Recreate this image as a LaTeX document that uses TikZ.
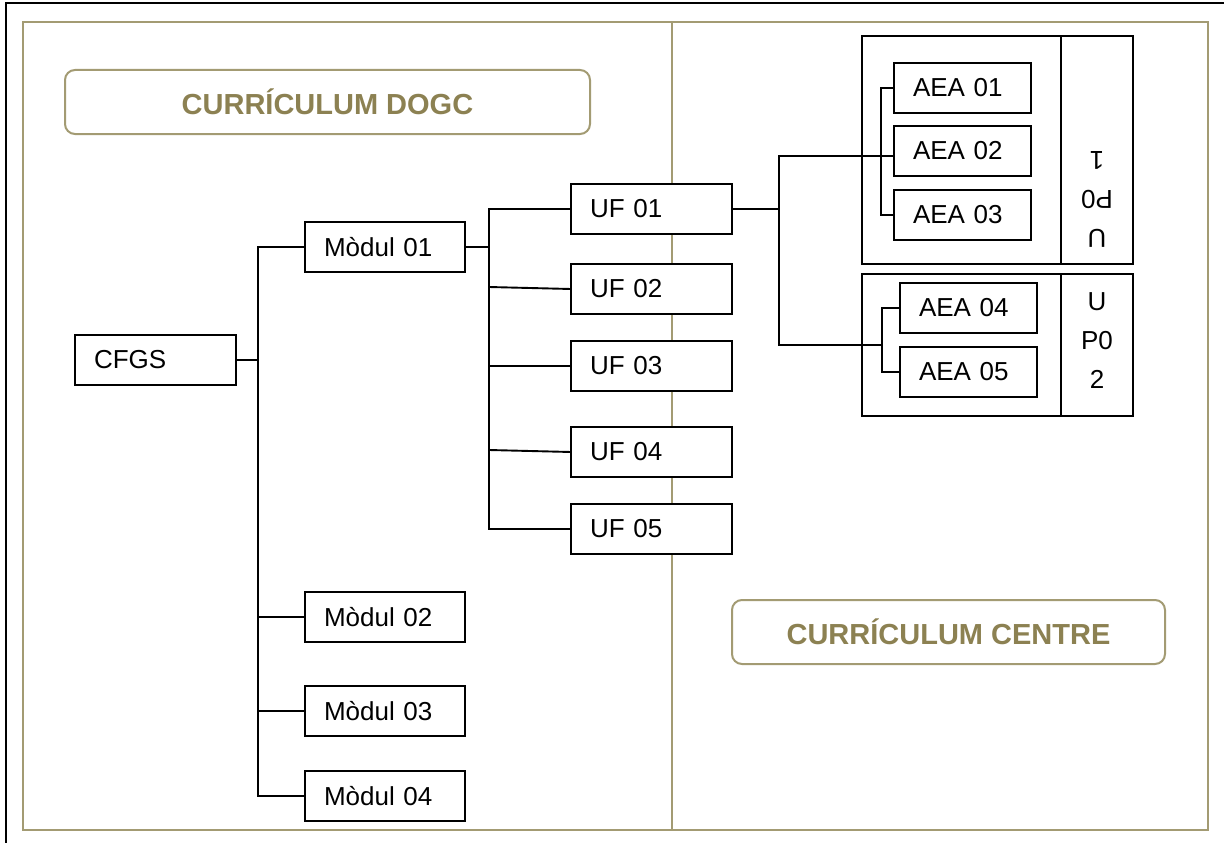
\documentclass[tikz,border=0pt]{standalone}
\usepackage{fontspec}
\setmainfont{Liberation Sans}
\definecolor{olivefr}{RGB}{163,155,115}
\definecolor{olivetx}{RGB}{140,129,82}
\begin{document}
\begin{tikzpicture}[x=1pt,y=-1pt,
 ebox/.style={draw, fill=white, line width=1.9pt, anchor=north west, minimum height=50pt, inner xsep=19pt, inner ysep=0pt, outer sep=0pt, align=left, text width=#1, font=\fontsize{26}{30}\selectfont},
 upbox/.style={draw, line width=1.9pt, anchor=north west, inner sep=0pt, outer sep=0pt, minimum width=271pt},
 conn/.style={line width=1.9pt},
 titlebox/.style={draw=olivefr, line width=2pt, rounded corners=10pt, text=olivetx, font=\bfseries\fontsize{29}{33}\selectfont, minimum height=64pt, inner sep=0pt},
 uplbl/.style={font=\fontsize{26}{39}\selectfont, align=center, inner sep=0pt}]
\useasboundingbox (0,0) rectangle (1224,843);
\fill[white] (0,0) rectangle (1224,843);
% outer black border
\draw[line width=2pt] (6,850) -- (6,3) -- (1230,3);
% olive frame and divider
\draw[olivefr, line width=2.2pt] (23,22) rectangle (1208,830);
\draw[olivefr, line width=2pt] (672,22) -- (672,830);
% titles
\node[titlebox, minimum width=525pt] (t1) at (327.5,102) {CURRÍCULUM DOGC};
\node[titlebox, minimum width=433pt] (t2) at (948.5,632) {CURRÍCULUM CENTRE};
% bus coordinates
\coordinate (bA) at (258,0);
\coordinate (bB) at (489,0);
\coordinate (bC) at (779,0);
\coordinate (sA) at (881,0);
\coordinate (sB) at (882,0);
% UP boxes
\node[upbox, minimum height=228pt] (up1) at (862,36) {};
\draw[conn] ([xshift=199pt]up1.north west) -- ([xshift=199pt]up1.south west);
\node[upbox, minimum height=142pt] (up2) at (862,274) {};
\draw[conn] ([xshift=199pt]up2.north west) -- ([xshift=199pt]up2.south west);
\node[uplbl, rotate=180] (l1) at (1097,199) {U\\P0\\1};
\node[uplbl] (l2) at (1097,341) {U\\P0\\2};
% boxes
\node[ebox=123pt] (cfgs) at (75,335) {CFGS};
\node[ebox=122pt] (m1) at (305,222) {Mòdul 01};
\node[ebox=122pt] (m2) at (305,592) {Mòdul 02};
\node[ebox=122pt] (m3) at (305,686) {Mòdul 03};
\node[ebox=122pt] (m4) at (305,771) {Mòdul 04};
\node[ebox=123pt] (uf1) at (571,184) {UF 01};
\node[ebox=123pt] (uf2) at (571,264) {UF 02};
\node[ebox=123pt] (uf3) at (571,341) {UF 03};
\node[ebox=123pt] (uf4) at (571,427) {UF 04};
\node[ebox=123pt] (uf5) at (571,504) {UF 05};
\node[ebox=99pt] (aea1) at (894,63) {AEA 01};
\node[ebox=99pt] (aea2) at (894,126) {AEA 02};
\node[ebox=99pt] (aea3) at (894,190) {AEA 03};
\node[ebox=99pt] (aea4) at (900,283) {AEA 04};
\node[ebox=99pt] (aea5) at (900,347) {AEA 05};
% connectors
\draw[conn] (cfgs.east) -- (cfgs.east -| bA);
\draw[conn] (m1.west) -| (bA |- m4.west) -- (m4.west);
\draw[conn] (bA |- m2.west) -- (m2.west);
\draw[conn] (bA |- m3.west) -- (m3.west);
\draw[conn] (m1.east) -- (m1.east -| bB);
\draw[conn] (uf1.west) -| (bB |- uf5.west) -- (uf5.west);
\draw[conn] (bB |- uf2.west) ++(0,-2) -- (uf2.west);
\draw[conn] (bB |- uf3.west) -- (uf3.west);
\draw[conn] (bB |- uf4.west) ++(0,-2) -- (uf4.west);
\draw[conn] (uf1.east) -- (uf1.east -| bC);
\draw[conn] ([yshift=-5pt]aea2.west) -| (bC |- up2.west) -- (sB |- up2.west);
\draw[conn] (aea1.west) -| (sA |- aea3.west) -- (aea3.west);
\draw[conn] (aea4.west) -| (sB |- aea5.west) -- (aea5.west);
\end{tikzpicture}
\end{document}
